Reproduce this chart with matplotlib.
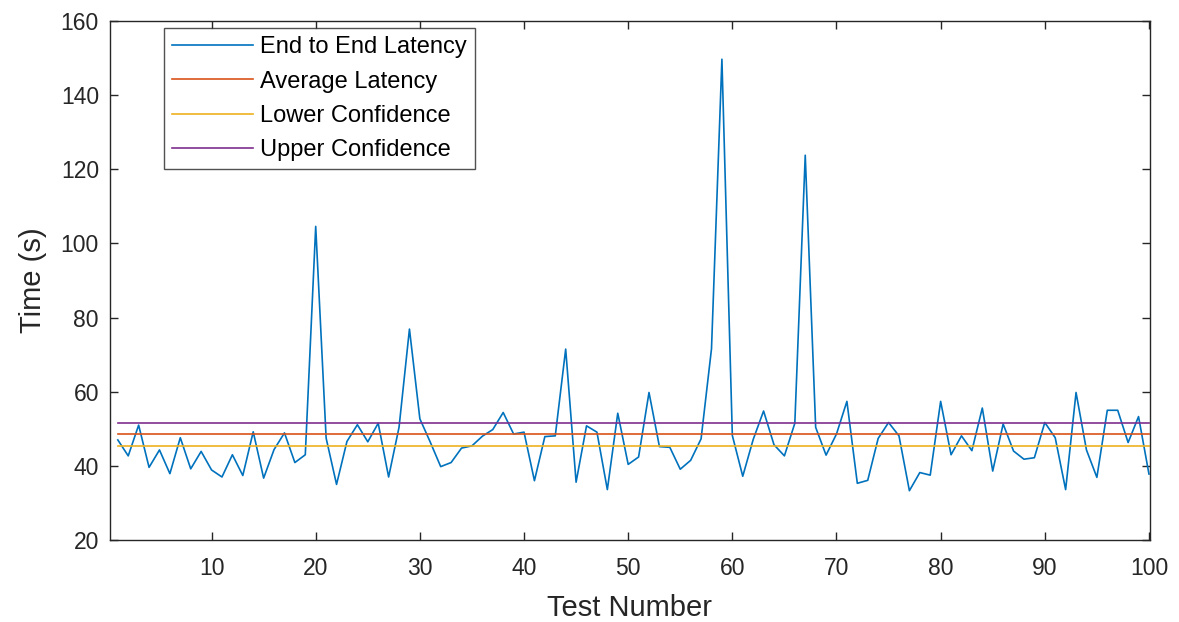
import matplotlib
matplotlib.use("Agg")
import matplotlib.pyplot as plt
import numpy as np

# Data
test_number = list(range(1, 101))
latency = [
    47.0, 42.7, 51.0, 39.6, 44.3, 37.9, 47.6, 39.2, 43.9, 38.9,
    37.0, 43.0, 37.4, 49.2, 36.7, 44.4, 48.9, 40.9, 43.0, 104.6,
    47.5, 35.0, 46.6, 51.1, 46.5, 51.5, 37.0, 50.4, 76.9, 52.7,
    46.4, 39.8, 40.9, 44.8, 45.4, 48.0, 49.8, 54.4, 48.6, 49.1,
    36.0, 47.9, 48.1, 71.5, 35.6, 50.8, 49.1, 33.6, 54.2, 40.4,
    42.4, 59.8, 45.2, 45.0, 39.1, 41.5, 47.3, 71.6, 149.7, 48.2,
    37.2, 47.1, 54.8, 45.7, 42.7, 51.5, 123.8, 50.4, 42.9, 48.6,
    57.4, 35.3, 36.1, 47.4, 51.7, 48.1, 33.3, 38.2, 37.5, 57.4,
    43.0, 48.1, 44.1, 55.6, 38.6, 51.3, 44.0, 41.8, 42.2, 51.7,
    47.6, 33.6, 59.8, 44.3, 36.9, 55.0, 55.0, 46.3, 53.3, 37.8,
]
average_latency = 48.5
lower_confidence = 45.3
upper_confidence = 51.7

x_ticks = list(range(10, 101, 10))
y_ticks = list(range(20, 161, 20))

# MATLAB default colours
BLUE = "#0072BD"
ORANGE = "#D95319"
YELLOW = "#EDB120"
PURPLE = "#7E2F8E"
AXIS = "#262626"
FONT = "Liberation Sans"

fig = plt.figure(figsize=(11.79, 6.22), dpi=100)
ax = fig.add_axes([0.0933, 0.1318, 0.9754 - 0.0933, 0.9662 - 0.1318])

n = len(test_number)
ax.plot(test_number, latency, color=BLUE, lw=1.2, label="End to End Latency")
ax.plot(test_number, [average_latency] * n, color=ORANGE, lw=1.2, label="Average Latency")
ax.plot(test_number, [lower_confidence] * n, color=YELLOW, lw=1.2, label="Lower Confidence")
ax.plot(test_number, [upper_confidence] * n, color=PURPLE, lw=1.2, label="Upper Confidence")

ax.set_xlim(0.25, 100.1)
ax.set_ylim(20, 160)
ax.set_xticks(x_ticks)
ax.set_yticks(y_ticks)

for side in ["top", "bottom", "left", "right"]:
    ax.spines[side].set_color(AXIS)
    ax.spines[side].set_linewidth(1.0)
ax.tick_params(direction="in", length=6, width=1.0, color=AXIS,
               top=True, right=True, labelsize=16.5, labelcolor=AXIS)
ax.tick_params(axis="x", pad=12)
ax.tick_params(axis="y", pad=8)
for lab in ax.get_xticklabels() + ax.get_yticklabels():
    lab.set_fontfamily(FONT)

ax.set_xlabel("Test Number", fontsize=21, color=AXIS, fontfamily=FONT, labelpad=10)
ax.set_ylabel("Time (s)", fontsize=21, color=AXIS, fontfamily=FONT, labelpad=10)

leg = ax.legend(loc="upper left", bbox_to_anchor=(164 / 1179, 1 - 28 / 622),
                bbox_transform=fig.transFigure, frameon=True, fancybox=False,
                handlelength=3.4, handletextpad=0.3, labelspacing=0.52,
                borderpad=0.35, borderaxespad=0,
                prop={"family": FONT, "size": 17})
leg.get_frame().set_edgecolor(AXIS)
leg.get_frame().set_linewidth(1.0)

fig.savefig("out.png", dpi=100, facecolor="white")
plt.close()
